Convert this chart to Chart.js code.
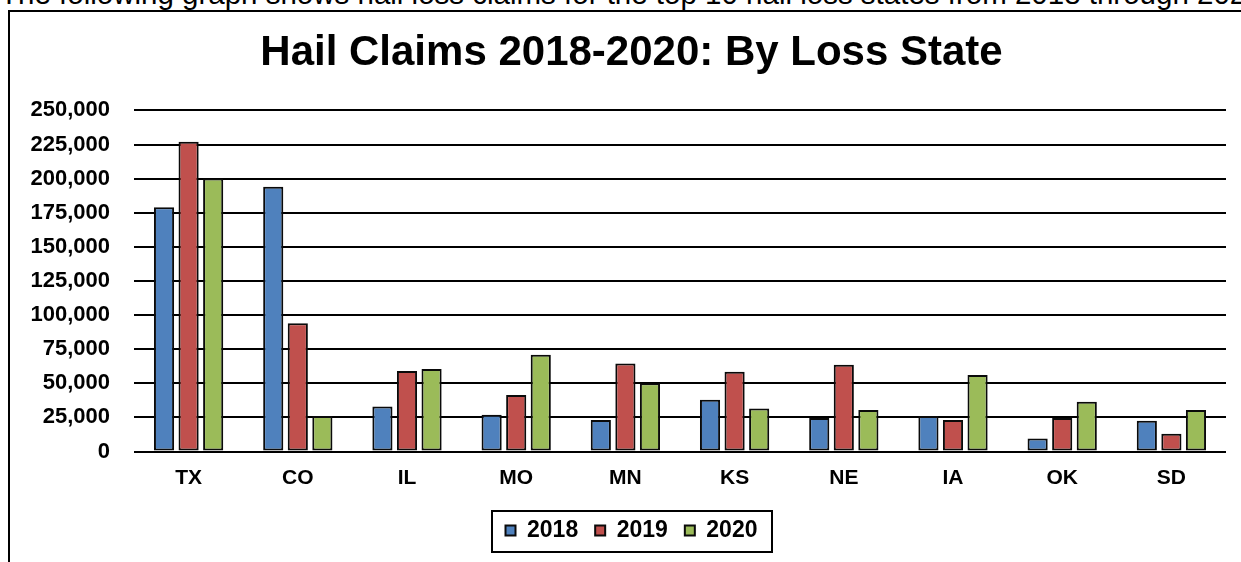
<!DOCTYPE html>
<html>
<head>
<meta charset="utf-8">
<script src="https://cdn.jsdelivr.net/npm/chart.js@4/dist/chart.umd.min.js"></script>
<style>
  html, body { margin: 0; padding: 0; background: #fff; width: 1241px; height: 562px; overflow: hidden; position: relative; }
  #intro { position: absolute; left: 0; top: -21px; font-family: "Liberation Sans", Arial, sans-serif; font-size: 29.5px; line-height: 29px; white-space: nowrap; color: #000; }
  #frame { position: absolute; left: 8px; top: 10px; width: 2000px; height: 2000px; border-left: 2px solid #000; border-top: 2px solid #000; }
  #wrap { position: absolute; left: 8px; top: 0; width: 1247px; height: 562px; }
</style>
</head>
<body>
<div id="intro">The following graph shows hail loss claims for the top 10 hail loss states from 2018 through 2020.</div>
<div id="frame"></div>
<div id="wrap"><canvas id="c" width="1247" height="562"></canvas></div>
<script>
const chartTitle = "Hail Claims 2018-2020: By Loss State";
const states = ["TX", "CO", "IL", "MO", "MN", "KS", "NE", "IA", "OK", "SD"];
const seriesNames = ["2018", "2019", "2020"];
const claims2018 = [179000, 194000, 33000, 27000, 23000, 38000, 24500, 26000, 9500, 22500];
const claims2019 = [227000, 94000, 59000, 41500, 64500, 58500, 63500, 23000, 24500, 13000];
const claims2020 = [200000, 26000, 60500, 71000, 50000, 31500, 30500, 56000, 36500, 30500];
const seriesColors = ["#4F81BD", "#C0504D", "#9BBB59"];
const yMin = 0, yMax = 250000, yStep = 25000;

const FONT = "'Liberation Sans', Arial, sans-serif";

const legendFrame = {
  id: 'legendFrame',
  afterDraw(chart) {
    const lg = chart.legend;
    if (!lg || !lg.legendHitBoxes || !lg.legendHitBoxes.length) return;
    const hb = lg.legendHitBoxes;
    const l = hb[0].left, r = hb[hb.length - 1].left + hb[hb.length - 1].width;
    const cy = hb[0].top + hb[0].height / 2;
    const ctx = chart.ctx;
    ctx.save();
    ctx.strokeStyle = '#000';
    ctx.lineWidth = 2;
    ctx.strokeRect(Math.round(l - 14), Math.round(cy - 20), Math.round(r - l + 28), 41);
    ctx.restore();
  }
};

const data = {
  labels: states,
  datasets: [claims2018, claims2019, claims2020].map((vals, i) => ({
    label: seriesNames[i],
    data: vals,
    backgroundColor: seriesColors[i],
    borderColor: '#0a0a0a',
    borderWidth: 2,
    borderSkipped: false,
    categoryPercentage: 0.675,
    barPercentage: 0.82,
    yAxisID: 'y'
  }))
};

new Chart(document.getElementById('c'), {
  type: 'bar',
  data,
  plugins: [legendFrame],
  options: {
    responsive: false,
    animation: false,
    devicePixelRatio: 1,
    layout: { padding: { top: 28, bottom: 10, left: 0, right: 0 } },
    plugins: {
      title: {
        display: true,
        text: chartTitle,
        color: '#000',
        font: { family: FONT, size: 42, weight: 'bold', lineHeight: 1.2 },
        padding: { top: 0, bottom: 32 }
      },
      legend: {
        display: true,
        position: 'bottom',
        labels: {
          color: '#000',
          font: { family: FONT, size: 23, weight: 'bold' },
          boxWidth: 10,
          boxHeight: 10,
          padding: 17
        }
      },
      tooltip: { enabled: false }
    },
    scales: {
      x: {
        grid: { display: false, drawTicks: false },
        border: { display: false },
        ticks: { color: '#000', padding: 14, font: { family: FONT, size: 21, weight: 'bold' } },
        afterFit: s => { s.height = 50.5; }
      },
      y: {
        position: 'left',
        min: yMin,
        max: yMax,
        grid: { color: '#000', lineWidth: 2, drawTicks: false },
        border: { display: false },
        ticks: {
          stepSize: yStep,
          color: '#000',
          padding: 24,
          font: { family: FONT, size: 22, weight: 'bold' },
          callback: v => Number(v).toLocaleString('en-US')
        },
        afterFit: s => { s.width = 126; }
      },
      y2: {
        position: 'right',
        display: true,
        grid: { display: false, drawTicks: false },
        border: { display: false },
        ticks: { display: false },
        afterFit: s => { s.width = 29; }
      }
    }
  }
});
</script>
</body>
</html>
